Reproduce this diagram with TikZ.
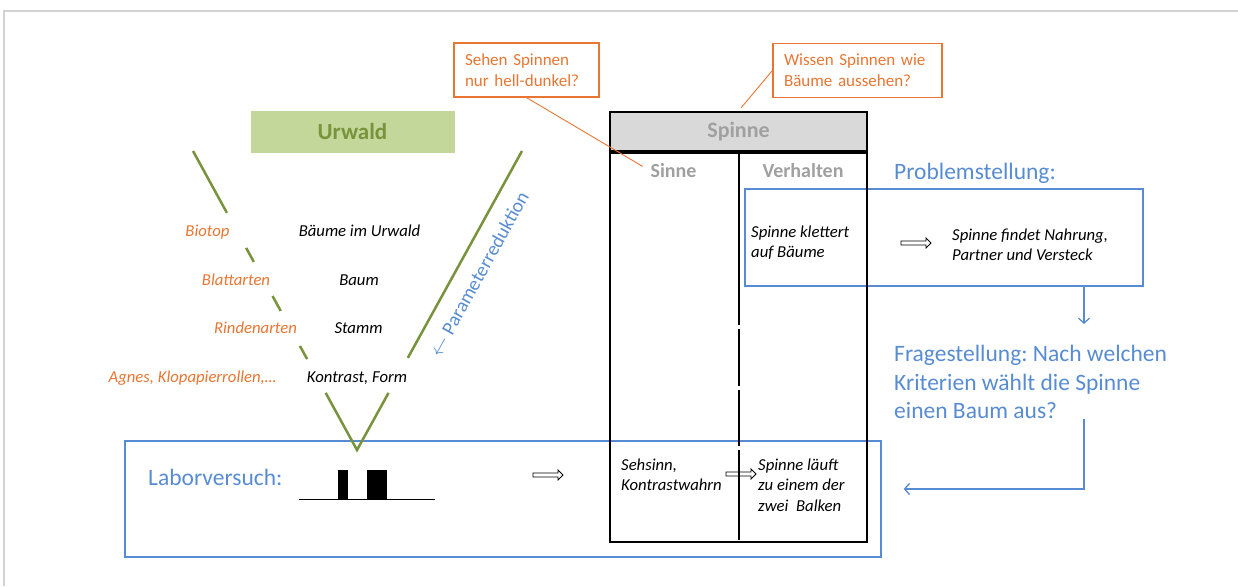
\documentclass[tikz,border=0pt]{standalone}
\usepackage{fontspec}
\setmainfont{Carlito}
\usetikzlibrary{arrows.meta,shapes.arrows,calc}
\definecolor{orangec}{RGB}{232,118,50}
\definecolor{bluec}{RGB}{88,140,210}
\definecolor{greenc}{RGB}{119,147,60}
\definecolor{greenfill}{RGB}{196,215,155}
\definecolor{grayfill}{RGB}{217,217,217}
\definecolor{graytext}{RGB}{160,160,160}
\definecolor{framec}{RGB}{210,210,210}
\frenchspacing
\tikzset{
  callout/.style={draw=orangec,line width=1.2pt,text=orangec,align=left,font=\fontsize{17}{21}\selectfont,inner xsep=11pt,inner ysep=0pt,minimum height=54pt},
  blaubox/.style={draw=bluec,line width=1.3pt,inner sep=0pt},
  blautext/.style={text=bluec,font=\fontsize{23.5}{28.5}\selectfont,inner sep=0pt,align=left},
  kursiv/.style={font=\fontsize{16.7}{20.5}\selectfont\itshape,inner sep=0pt,align=left},
  orangekursiv/.style={kursiv,text=orangec},
  kopf/.style={font=\fontsize{20}{24}\selectfont\bfseries,text=graytext,inner sep=0pt},
  blockpfeil/.style={single arrow,draw,line width=0.8pt,minimum height=30pt,minimum width=10pt,single arrow head extend=3pt,inner sep=1.5pt},
  vlinie/.style={greenc,line width=2.5pt},
  tabelle/.style={line width=2.2pt}
}
\begin{document}
\begin{tikzpicture}[x=1pt,y=-1pt,>={Straight Barb[length=5pt,width=11pt]}]
\useasboundingbox (0,0) rectangle (1238,586);
\draw[framec,line width=2pt] (4,586) -- (4,11) -- (1238,11);

\node[callout,text width=123pt] (sehen) at (526.5,70) {Sehen Spinnen\\nur hell-dunkel?};
\node[callout,text width=147pt] (wissen) at (857.5,70.5) {Wissen Spinnen wie\\Bäume aussehen?};

\node[blaubox,minimum width=398pt,minimum height=97pt] (probbox) at (944,237.5) {};
\node[blaubox,minimum width=756pt,minimum height=116pt] (labbox) at (503,499) {};

\node[draw,tabelle,fill=grayfill,minimum width=257pt,minimum height=39pt,font=\fontsize{22}{26}\selectfont\bfseries,text=graytext] (spinne) at (738.5,131.5) {Spinne};
\node[draw,tabelle,minimum width=257pt,minimum height=389pt,anchor=north] (koerper) at (spinne.south) {};
\foreach \a/\b in {151/325,329/386,390/446,450/540}
  \draw[tabelle] (739,\a) -- (739,\b);
\node[kopf] (sinne) at (673.5,171) {Sinne};
\node[kopf] (verhalten) at (803,171) {Verhalten};

\draw[orangec,line width=0.9pt,shorten >=9pt] (sehen.south) -- (sinne.west);
\draw[orangec,line width=0.9pt,shorten >=4pt] (wissen.west) -- (spinne.north);

\node[fill=greenfill,minimum width=204pt,minimum height=42pt,text=greenc,font=\fontsize{23}{27}\selectfont\bfseries] (urwald) at (352.5,132) {Urwald};

\node[orangekursiv,anchor=base] (biotop) at (207.5,236) {Biotop};
\node[orangekursiv,anchor=base] (blatt) at (236,285) {Blattarten};
\node[orangekursiv,anchor=base] (rinde) at (255.5,333) {Rindenarten};
\node[orangekursiv,anchor=base] (agnes) at (192.5,382) {Agnes, Klopapierrollen,\dots};
\node[kursiv,anchor=base] (baeume) at (359.5,236) {Bäume im Urwald};
\node[kursiv,anchor=base] (baum) at (359,285) {Baum};
\node[kursiv,anchor=base] (stamm) at (358.5,333) {Stamm};
\node[kursiv,anchor=base] (kontrast) at (357,382) {Kontrast, Form};

\coordinate (vl) at (193,151);
\coordinate (vr) at (522,151);
\coordinate (vb) at (357,450);
\foreach \a/\b in {0/0.207,0.324/0.371,0.485/0.535,0.652/0.696}
  \draw[vlinie] ($(vl)!\a!(vb)$) -- ($(vl)!\b!(vb)$);
\draw[vlinie] (vr) -- ($(vr)!0.692!(vb)$);
\draw[vlinie] ($(vl)!0.809!(vb)$) -- (vb) -- ($(vr)!0.809!(vb)$);

\node[rotate=61,text=bluec,font=\fontsize{19.5}{22}\selectfont,inner sep=0pt] (param) at (479,274) {$\leftarrow$ Parameterreduktion};

\node[kursiv,anchor=north west] (klettert) at (751,225.5) {Spinne klettert\\auf Bäume};
\node[blockpfeil] (pfeil1) at (915,243) {};
\node[kursiv,anchor=north west] (nahrung) at (952,228.5) {Spinne findet Nahrung,\\Partner und Versteck};

\node[blautext,anchor=base west] (problem) at (894,179) {Problemstellung:};
\node[blautext,anchor=north west] (frage) at (894,345) {Fragestellung: Nach welchen\\Kriterien wählt die Spinne\\einen Baum aus?};
\coordinate (pfeilende) at (1084,324);
\coordinate (knick) at (1084,489);
\draw[bluec,line width=1.3pt,->] (probbox.south -| pfeilende) -- (pfeilende);
\draw[bluec,line width=1.3pt,->,shorten >=22pt] (frage.south -| knick) -- (knick) -- (labbox.east |- knick);

\node[blautext,anchor=base west] (labor) at (148,485) {Laborversuch:};
\draw[line width=0.8pt] (299,499) -- (435,499);
\fill (338,470) rectangle (348,499);
\fill (367,470) rectangle (387,499);
\node[blockpfeil] (pfeil2) at (547,475) {};
\node[kursiv,anchor=north west] (sehsinn) at (621,458.5) {Sehsinn,\\Kontrastwahrn};
\node[blockpfeil] (pfeil3) at (740,474) {};
\node[kursiv,anchor=north west] (laeuft) at (758,458.5) {Spinne läuft\\zu einem der\\zwei~ Balken};
\end{tikzpicture}
\end{document}
